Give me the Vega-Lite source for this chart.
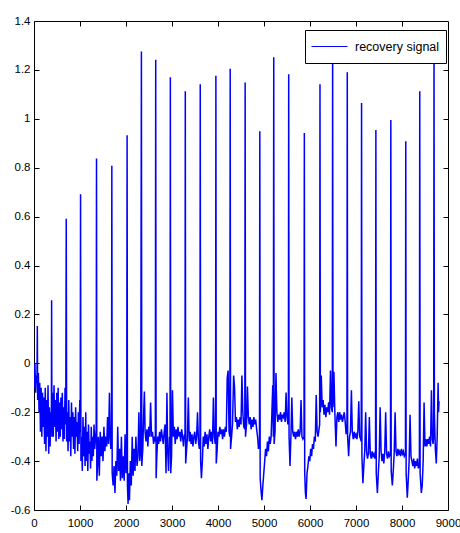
{
"$schema": "https://vega.github.io/schema/vega-lite/v6.json",
"width": 414, "height": 489,
"autosize": "none",
"padding": {"left": 34, "top": 21, "right": 12, "bottom": 23},
"background": "white",
"config": {
  "view": {"stroke": "black", "strokeWidth": 1},
  "font": "Liberation Sans",
  "axis": {"grid": false, "domainColor": "black", "tickColor": "black", "tickWidth": 1, "labelColor": "black", "labelFont": "Liberation Sans", "labelFontSize": 11.5, "title": null, "labelFlush": false, "labelOverlap": false}
},
"data": {"values": [
{"t":0,"v":-0.02},{"t":10,"v":-0.1},{"t":20,"v":0.0},{"t":35,"v":-0.12},{"t":50,"v":-0.05},{"t":65,"v":-0.08},{"t":72,"v":0.153},{"t":80,"v":-0.15},{"t":95,"v":-0.04},{"t":110,"v":-0.2},{"t":125,"v":-0.08},{"t":140,"v":-0.28},{"t":155,"v":-0.1},{"t":170,"v":-0.3},{"t":185,"v":-0.12},{"t":200,"v":-0.26},{"t":215,"v":-0.14},{"t":230,"v":-0.33},{"t":245,"v":-0.1},{"t":260,"v":-0.36},{"t":275,"v":-0.15},{"t":290,"v":-0.3},{"t":305,"v":-0.09},{"t":320,"v":-0.37},{"t":335,"v":-0.18},{"t":350,"v":-0.34},{"t":365,"v":-0.2},{"t":378,"v":-0.25},{"t":383,"v":0.258},{"t":390,"v":-0.3},
{"t":405,"v":-0.12},{"t":420,"v":-0.3},{"t":435,"v":-0.09},{"t":450,"v":-0.26},{"t":465,"v":-0.15},{"t":480,"v":-0.32},{"t":495,"v":-0.12},{"t":510,"v":-0.28},{"t":525,"v":-0.1},{"t":540,"v":-0.31},{"t":555,"v":-0.16},{"t":570,"v":-0.3},{"t":585,"v":-0.14},{"t":600,"v":-0.27},{"t":615,"v":-0.12},{"t":630,"v":-0.32},{"t":645,"v":-0.18},{"t":660,"v":-0.31},{"t":675,"v":-0.1},{"t":690,"v":-0.25},{"t":701,"v":0.591},{"t":710,"v":-0.32},
{"t":725,"v":-0.2},{"t":740,"v":-0.36},{"t":755,"v":-0.15},{"t":770,"v":-0.32},{"t":785,"v":-0.22},{"t":800,"v":-0.38},{"t":815,"v":-0.16},{"t":830,"v":-0.3},{"t":845,"v":-0.2},{"t":860,"v":-0.35},{"t":875,"v":-0.22},{"t":890,"v":-0.37},{"t":905,"v":-0.18},{"t":920,"v":-0.3},{"t":935,"v":-0.24},{"t":950,"v":-0.36},{"t":965,"v":-0.2},{"t":980,"v":-0.33},{"t":995,"v":-0.15},{"t":1005,"v":-0.28},{"t":1012,"v":0.691},{"t":1020,"v":-0.4},
{"t":1035,"v":-0.3},{"t":1050,"v":-0.44},{"t":1065,"v":-0.22},{"t":1080,"v":-0.38},{"t":1095,"v":-0.26},{"t":1110,"v":-0.42},{"t":1125,"v":-0.2},{"t":1140,"v":-0.4},{"t":1155,"v":-0.28},{"t":1170,"v":-0.44},{"t":1185,"v":-0.25},{"t":1200,"v":-0.37},{"t":1215,"v":-0.32},{"t":1230,"v":-0.43},{"t":1245,"v":-0.26},{"t":1260,"v":-0.4},{"t":1275,"v":-0.3},{"t":1290,"v":-0.38},{"t":1305,"v":-0.25},{"t":1320,"v":-0.35},{"t":1340,"v":-0.3},{"t":1352,"v":-0.27},{"t":1359,"v":0.838},{"t":1366,"v":-0.48},
{"t":1385,"v":-0.4},{"t":1400,"v":-0.3},{"t":1420,"v":-0.46},{"t":1440,"v":-0.28},{"t":1460,"v":-0.38},{"t":1480,"v":-0.3},{"t":1500,"v":-0.4},{"t":1520,"v":-0.26},{"t":1540,"v":-0.36},{"t":1560,"v":-0.3},{"t":1580,"v":-0.34},{"t":1600,"v":-0.22},{"t":1620,"v":-0.33},{"t":1640,"v":-0.12},{"t":1655,"v":-0.3},{"t":1670,"v":-0.35},{"t":1685,"v":-0.3},{"t":1692,"v":0.808},{"t":1700,"v":-0.45},
{"t":1720,"v":-0.5},{"t":1740,"v":-0.42},{"t":1760,"v":-0.53},{"t":1780,"v":-0.4},{"t":1800,"v":-0.46},{"t":1820,"v":-0.26},{"t":1840,"v":-0.44},{"t":1860,"v":-0.35},{"t":1880,"v":-0.48},{"t":1900,"v":-0.3},{"t":1920,"v":-0.47},{"t":1940,"v":-0.38},{"t":1960,"v":-0.48},{"t":1980,"v":-0.29},{"t":2000,"v":-0.45},{"t":2015,"v":-0.4},{"t":2024,"v":0.933},{"t":2032,"v":-0.5},
{"t":2045,"v":-0.575},{"t":2060,"v":-0.45},{"t":2075,"v":-0.56},{"t":2095,"v":-0.4},{"t":2115,"v":-0.5},{"t":2135,"v":-0.3},{"t":2155,"v":-0.46},{"t":2175,"v":-0.35},{"t":2195,"v":-0.44},{"t":2215,"v":-0.3},{"t":2240,"v":-0.42},{"t":2260,"v":-0.38},{"t":2280,"v":-0.2},{"t":2300,"v":-0.4},{"t":2320,"v":-0.35},{"t":2335,"v":1.275},{"t":2343,"v":-0.42},
{"t":2365,"v":-0.35},{"t":2385,"v":-0.2},{"t":2400,"v":-0.115},{"t":2415,"v":-0.28},{"t":2435,"v":-0.32},{"t":2455,"v":-0.27},{"t":2475,"v":-0.34},{"t":2495,"v":-0.26},{"t":2515,"v":-0.3},{"t":2535,"v":-0.16},{"t":2555,"v":-0.3},{"t":2575,"v":-0.28},{"t":2600,"v":-0.33},{"t":2620,"v":-0.3},{"t":2638,"v":-0.32},{"t":2646,"v":1.241},{"t":2655,"v":-0.47},{"t":2670,"v":-0.38},
{"t":2690,"v":-0.3},{"t":2710,"v":-0.33},{"t":2730,"v":-0.28},{"t":2750,"v":-0.32},{"t":2770,"v":-0.27},{"t":2790,"v":-0.3},{"t":2810,"v":-0.33},{"t":2830,"v":-0.28},{"t":2850,"v":-0.25},{"t":2870,"v":-0.45},{"t":2890,"v":-0.12},{"t":2905,"v":-0.35},{"t":2925,"v":-0.44},{"t":2945,"v":-0.3},{"t":2958,"v":-0.35},{"t":2964,"v":1.17},{"t":2972,"v":-0.45},
{"t":2990,"v":-0.38},{"t":3010,"v":-0.11},{"t":3030,"v":-0.3},{"t":3050,"v":-0.26},{"t":3070,"v":-0.33},{"t":3090,"v":-0.27},{"t":3110,"v":-0.31},{"t":3130,"v":-0.26},{"t":3150,"v":-0.3},{"t":3170,"v":-0.28},{"t":3190,"v":-0.32},{"t":3210,"v":-0.27},{"t":3230,"v":-0.3},{"t":3250,"v":-0.34},{"t":3270,"v":-0.29},{"t":3283,"v":-0.3},{"t":3289,"v":1.113},{"t":3297,"v":-0.41},
{"t":3315,"v":-0.36},{"t":3335,"v":-0.3},{"t":3355,"v":-0.14},{"t":3375,"v":-0.32},{"t":3395,"v":-0.28},{"t":3415,"v":-0.33},{"t":3435,"v":-0.29},{"t":3455,"v":-0.34},{"t":3475,"v":-0.3},{"t":3495,"v":-0.28},{"t":3515,"v":-0.33},{"t":3535,"v":-0.3},{"t":3555,"v":-0.2},{"t":3575,"v":-0.32},{"t":3595,"v":-0.35},{"t":3608,"v":-0.33},{"t":3614,"v":1.141},{"t":3622,"v":-0.4},
{"t":3640,"v":-0.47},{"t":3660,"v":-0.4},{"t":3680,"v":-0.3},{"t":3700,"v":-0.34},{"t":3720,"v":-0.28},{"t":3740,"v":-0.33},{"t":3760,"v":-0.29},{"t":3780,"v":-0.35},{"t":3800,"v":-0.3},{"t":3820,"v":-0.27},{"t":3840,"v":-0.32},{"t":3860,"v":-0.28},{"t":3880,"v":-0.33},{"t":3900,"v":-0.14},{"t":3920,"v":-0.3},{"t":3940,"v":-0.33},{"t":3948,"v":-0.3},{"t":3954,"v":1.176},{"t":3962,"v":-0.41},
{"t":3980,"v":-0.36},{"t":4000,"v":-0.28},{"t":4020,"v":-0.3},{"t":4040,"v":-0.26},{"t":4060,"v":-0.29},{"t":4080,"v":-0.27},{"t":4100,"v":-0.31},{"t":4120,"v":-0.27},{"t":4140,"v":-0.3},{"t":4160,"v":-0.26},{"t":4180,"v":-0.28},{"t":4200,"v":-0.06},{"t":4220,"v":-0.03},{"t":4240,"v":-0.28},{"t":4258,"v":-0.3},{"t":4265,"v":1.205},{"t":4273,"v":-0.35},
{"t":4295,"v":-0.3},{"t":4315,"v":-0.25},{"t":4340,"v":-0.05},{"t":4360,"v":-0.1},{"t":4380,"v":-0.24},{"t":4400,"v":-0.22},{"t":4420,"v":-0.27},{"t":4440,"v":-0.23},{"t":4460,"v":-0.26},{"t":4480,"v":-0.22},{"t":4500,"v":-0.25},{"t":4520,"v":-0.05},{"t":4540,"v":-0.2},{"t":4560,"v":-0.26},{"t":4583,"v":-0.27},{"t":4590,"v":1.148},{"t":4598,"v":-0.3},
{"t":4620,"v":-0.25},{"t":4640,"v":-0.095},{"t":4660,"v":-0.22},{"t":4680,"v":-0.25},{"t":4700,"v":-0.22},{"t":4720,"v":-0.27},{"t":4740,"v":-0.23},{"t":4760,"v":-0.26},{"t":4780,"v":-0.22},{"t":4800,"v":-0.25},{"t":4820,"v":-0.23},{"t":4840,"v":-0.27},{"t":4860,"v":-0.3},{"t":4880,"v":-0.35},{"t":4902,"v":-0.33},{"t":4909,"v":0.949},{"t":4917,"v":-0.47},{"t":4935,"v":-0.52},{"t":4955,"v":-0.56},{"t":4975,"v":-0.5},
{"t":4995,"v":-0.45},{"t":5015,"v":-0.4},{"t":5035,"v":-0.35},{"t":5055,"v":-0.38},{"t":5075,"v":-0.32},{"t":5095,"v":-0.36},{"t":5115,"v":-0.3},{"t":5135,"v":-0.33},{"t":5155,"v":-0.3},{"t":5175,"v":-0.18},{"t":5190,"v":-0.09},{"t":5203,"v":-0.3},{"t":5212,"v":1.252},{"t":5220,"v":-0.33},
{"t":5240,"v":-0.28},{"t":5260,"v":-0.04},{"t":5280,"v":-0.2},{"t":5300,"v":-0.24},{"t":5320,"v":-0.21},{"t":5340,"v":-0.23},{"t":5360,"v":-0.2},{"t":5380,"v":-0.24},{"t":5400,"v":-0.21},{"t":5420,"v":-0.22},{"t":5440,"v":-0.2},{"t":5460,"v":-0.24},{"t":5480,"v":-0.12},{"t":5500,"v":-0.22},{"t":5520,"v":-0.25},{"t":5530,"v":-0.24},{"t":5537,"v":1.182},{"t":5545,"v":-0.3},{"t":5565,"v":-0.42},
{"t":5585,"v":-0.3},{"t":5605,"v":-0.14},{"t":5625,"v":-0.28},{"t":5645,"v":-0.3},{"t":5665,"v":-0.28},{"t":5685,"v":-0.31},{"t":5705,"v":-0.28},{"t":5725,"v":-0.3},{"t":5745,"v":-0.27},{"t":5765,"v":-0.3},{"t":5785,"v":-0.28},{"t":5805,"v":-0.15},{"t":5825,"v":-0.3},{"t":5845,"v":-0.31},{"t":5870,"v":-0.3},{"t":5877,"v":0.942},{"t":5885,"v":-0.45},{"t":5900,"v":-0.53},{"t":5915,"v":-0.555},{"t":5935,"v":-0.45},
{"t":5955,"v":-0.42},{"t":5975,"v":-0.38},{"t":5995,"v":-0.4},{"t":6015,"v":-0.35},{"t":6035,"v":-0.38},{"t":6055,"v":-0.33},{"t":6075,"v":-0.35},{"t":6095,"v":-0.3},{"t":6115,"v":-0.32},{"t":6135,"v":-0.13},{"t":6155,"v":-0.28},{"t":6175,"v":-0.3},{"t":6195,"v":-0.27},{"t":6210,"v":-0.25},{"t":6217,"v":1.141},{"t":6225,"v":-0.2},
{"t":6245,"v":-0.05},{"t":6265,"v":-0.18},{"t":6285,"v":-0.15},{"t":6305,"v":-0.21},{"t":6325,"v":-0.17},{"t":6345,"v":-0.22},{"t":6365,"v":-0.18},{"t":6385,"v":-0.2},{"t":6405,"v":-0.16},{"t":6425,"v":-0.21},{"t":6445,"v":-0.03},{"t":6465,"v":-0.18},{"t":6485,"v":-0.2},{"t":6492,"v":1.3},{"t":6500,"v":-0.18},
{"t":6520,"v":-0.035},{"t":6540,"v":-0.2},{"t":6565,"v":-0.34},{"t":6585,"v":-0.22},{"t":6605,"v":-0.2},{"t":6625,"v":-0.24},{"t":6645,"v":-0.2},{"t":6665,"v":-0.23},{"t":6685,"v":-0.21},{"t":6705,"v":-0.24},{"t":6725,"v":-0.22},{"t":6745,"v":-0.2},{"t":6765,"v":-0.24},{"t":6785,"v":-0.29},{"t":6803,"v":-0.27},{"t":6810,"v":1.19},{"t":6818,"v":-0.3},
{"t":6840,"v":-0.38},{"t":6860,"v":-0.3},{"t":6880,"v":-0.28},{"t":6900,"v":-0.11},{"t":6920,"v":-0.28},{"t":6940,"v":-0.31},{"t":6960,"v":-0.28},{"t":6980,"v":-0.3},{"t":7000,"v":-0.29},{"t":7020,"v":-0.31},{"t":7040,"v":-0.28},{"t":7060,"v":-0.155},{"t":7080,"v":-0.3},{"t":7100,"v":-0.31},{"t":7114,"v":-0.32},{"t":7121,"v":1.065},{"t":7129,"v":-0.38},
{"t":7150,"v":-0.49},{"t":7170,"v":-0.42},{"t":7190,"v":-0.36},{"t":7210,"v":-0.2},{"t":7230,"v":-0.36},{"t":7250,"v":-0.39},{"t":7270,"v":-0.37},{"t":7290,"v":-0.22},{"t":7310,"v":-0.37},{"t":7330,"v":-0.39},{"t":7350,"v":-0.36},{"t":7370,"v":-0.38},{"t":7390,"v":-0.37},{"t":7410,"v":-0.39},{"t":7425,"v":-0.38},{"t":7432,"v":0.954},{"t":7440,"v":-0.45},
{"t":7465,"v":-0.53},{"t":7485,"v":-0.45},{"t":7505,"v":-0.38},{"t":7525,"v":-0.18},{"t":7545,"v":-0.36},{"t":7565,"v":-0.4},{"t":7585,"v":-0.37},{"t":7605,"v":-0.41},{"t":7625,"v":-0.36},{"t":7645,"v":-0.2},{"t":7665,"v":-0.37},{"t":7685,"v":-0.39},{"t":7705,"v":-0.36},{"t":7725,"v":-0.38},{"t":7750,"v":-0.37},{"t":7757,"v":0.995},{"t":7765,"v":-0.44},
{"t":7790,"v":-0.5},{"t":7810,"v":-0.44},{"t":7830,"v":-0.37},{"t":7850,"v":-0.2},{"t":7870,"v":-0.36},{"t":7890,"v":-0.38},{"t":7910,"v":-0.35},{"t":7930,"v":-0.37},{"t":7950,"v":-0.36},{"t":7970,"v":-0.38},{"t":7990,"v":-0.35},{"t":8010,"v":-0.37},{"t":8030,"v":-0.36},{"t":8050,"v":-0.38},{"t":8075,"v":-0.37},{"t":8082,"v":0.908},{"t":8090,"v":-0.45},
{"t":8115,"v":-0.55},{"t":8135,"v":-0.48},{"t":8155,"v":-0.4},{"t":8175,"v":-0.21},{"t":8195,"v":-0.38},{"t":8215,"v":-0.4},{"t":8235,"v":-0.42},{"t":8255,"v":-0.39},{"t":8275,"v":-0.43},{"t":8295,"v":-0.4},{"t":8315,"v":-0.42},{"t":8335,"v":-0.39},{"t":8355,"v":-0.43},{"t":8378,"v":-0.41},{"t":8386,"v":1.113},{"t":8394,"v":-0.45},
{"t":8420,"v":-0.53},{"t":8440,"v":-0.5},{"t":8460,"v":-0.4},{"t":8480,"v":-0.16},{"t":8500,"v":-0.34},{"t":8520,"v":-0.31},{"t":8540,"v":-0.34},{"t":8560,"v":-0.31},{"t":8580,"v":-0.33},{"t":8600,"v":-0.3},{"t":8620,"v":-0.34},{"t":8640,"v":-0.11},{"t":8660,"v":-0.31},{"t":8675,"v":-0.33},{"t":8689,"v":-0.3},{"t":8696,"v":1.3},{"t":8704,"v":-0.2},{"t":8725,"v":-0.35},{"t":8745,"v":-0.41},{"t":8765,"v":-0.3},{"t":8785,"v":-0.08},{"t":8795,"v":-0.2},{"t":8805,"v":-0.155}
]},
"layer": [
  {
    "mark": {"type": "line", "strokeWidth": 1.5, "clip": true},
    "encoding": {
      "x": {"field": "t", "type": "quantitative", "scale": {"domain": [0, 9000], "nice": false, "zero": false},
            "axis": {"orient": "bottom", "ticks": false, "labelPadding": 7, "values": [0,1000,2000,3000,4000,5000,6000,7000,8000,9000], "labelExpr": "datum.value + ''"}},
      "y": {"field": "v", "type": "quantitative", "scale": {"domain": [-0.6, 1.4], "nice": false, "zero": false},
            "axis": {"orient": "left", "ticks": false, "labelPadding": 4, "values": [-0.6,-0.4,-0.2,0,0.2,0.4,0.6,0.8,1,1.2,1.4], "labelExpr": "datum.value + ''"}},
      "color": {"datum": "recovery signal", "type": "nominal", "scale": {"range": ["#0000ff"]},
                "legend": {"title": null, "orient": "none", "legendX": 271, "legendY": 9, "fillColor": "white", "strokeColor": "black", "padding": 6, "clipHeight": 21, "symbolType": "stroke", "symbolSize": 1296, "symbolStrokeWidth": 1, "labelFontSize": 12.5, "labelFont": "Liberation Sans", "labelColor": "black", "labelOffset": 7}}
    }
  },
  {
    "mark": {"type": "line", "strokeOpacity": 0},
    "encoding": {
      "x": {"field": "t", "type": "quantitative", "axis": {"orient": "top", "offset": -489, "domain": false, "labels": false, "tickSize": 5, "values": [1000,2000,3000,4000,5000,6000,7000,8000]}},
      "y": {"field": "v", "type": "quantitative", "axis": {"orient": "right", "offset": -414, "domain": false, "labels": false, "tickSize": 5, "values": [-0.4,-0.2,0,0.2,0.4,0.6,0.8,1,1.2]}}
    }
  },
  {
    "mark": {"type": "line", "strokeOpacity": 0},
    "encoding": {
      "x": {"field": "t", "type": "quantitative", "axis": {"orient": "bottom", "offset": -489, "domain": false, "labels": false, "tickSize": 5, "values": [1000,2000,3000,4000,5000,6000,7000,8000]}},
      "y": {"field": "v", "type": "quantitative", "axis": {"orient": "left", "offset": -414, "domain": false, "labels": false, "tickSize": 5, "values": [-0.4,-0.2,0,0.2,0.4,0.6,0.8,1,1.2]}}
    }
  }
],
"resolve": {"axis": {"x": "independent", "y": "independent"}}
}
